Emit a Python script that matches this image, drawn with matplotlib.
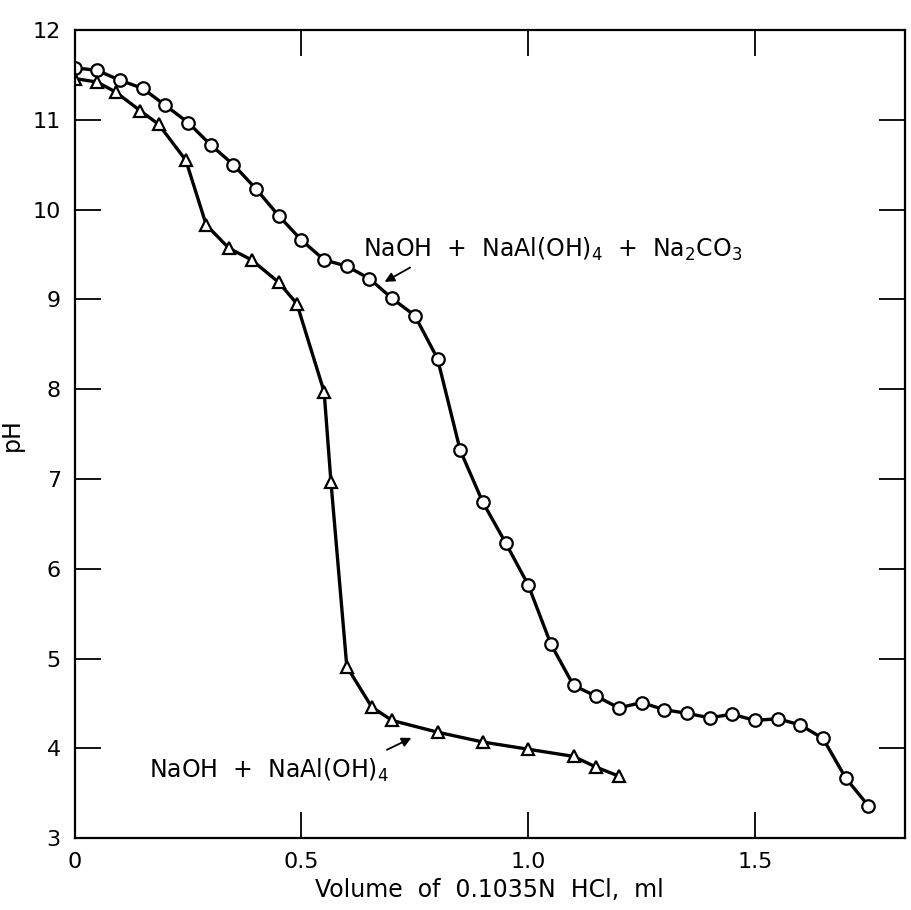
import matplotlib
matplotlib.use("Agg")
import matplotlib.pyplot as plt
from matplotlib.ticker import FixedLocator, FixedFormatter

# ===============================
# Datos
# ===============================

# NaOH + NaAl(OH)4 + Na2CO3 (circulos)
vol_carb = [0.00, 0.05, 0.10, 0.15, 0.20, 0.25, 0.30, 0.35, 0.40, 0.45,
            0.50, 0.55, 0.60, 0.65, 0.70, 0.75, 0.80, 0.85, 0.90, 0.95,
            1.00, 1.05, 1.10, 1.15, 1.20, 1.25, 1.30, 1.35, 1.40, 1.45,
            1.50, 1.55, 1.60, 1.65, 1.70, 1.75]
ph_carb = [11.58, 11.55, 11.44, 11.35, 11.16, 10.97, 10.72, 10.50, 10.23, 9.93,
           9.66, 9.44, 9.37, 9.23, 9.01, 8.82, 8.34, 7.32, 6.74, 6.29,
           5.82, 5.16, 4.70, 4.58, 4.45, 4.51, 4.43, 4.39, 4.34, 4.38,
           4.31, 4.33, 4.26, 4.11, 3.67, 3.36]

# NaOH + NaAl(OH)4 (triangulos)
vol_alum = [0.00, 0.05, 0.09, 0.145, 0.185, 0.245, 0.29, 0.34, 0.39, 0.45,
            0.49, 0.55, 0.565, 0.60, 0.655, 0.70, 0.80, 0.90, 1.00, 1.10,
            1.15, 1.20]
ph_alum = [11.46, 11.42, 11.31, 11.10, 10.95, 10.55, 9.83, 9.57, 9.44, 9.19,
           8.95, 7.97, 6.97, 4.91, 4.46, 4.31, 4.18, 4.07, 3.99, 3.91,
           3.79, 3.69]

x_ticks = [0, 0.5, 1.0, 1.5]
x_tick_labels = ["0", "0.5", "1.0", "1.5"]
y_ticks = [3, 4, 5, 6, 7, 8, 9, 10, 11, 12]

# ===============================
# Figura
# ===============================

plt.rcParams["font.family"] = ["DejaVu Sans"]

fig = plt.figure(figsize=(9.11, 9.10), dpi=100)
ax = fig.add_axes([0.082, 0.079, 0.911, 0.888])

ax.plot(vol_carb, ph_carb, color="black", lw=2.4, marker="o", ms=9,
        mfc="white", mec="black", mew=1.6, solid_joinstyle="round")
ax.plot(vol_alum, ph_alum, color="black", lw=2.4, marker="^", ms=9,
        mfc="white", mec="black", mew=1.6, solid_joinstyle="round")

ax.set_xlim(0, 1.83)
ax.set_ylim(3, 12)

ax.xaxis.set_major_locator(FixedLocator(x_ticks))
ax.xaxis.set_major_formatter(FixedFormatter(x_tick_labels))
ax.yaxis.set_major_locator(FixedLocator(y_ticks))

ax.tick_params(axis="both", direction="in", length=19, width=1.3,
               labelsize=16, top=True, right=True, pad=10)
for s in ax.spines.values():
    s.set_linewidth(1.6)

ax.set_xlabel("Volume  of  0.1035N  HCl,  ml", fontsize=17, labelpad=4)
ax.set_ylabel("pH", fontsize=17, labelpad=6)

ax.text(0.636, 9.56, "NaOH  +  NaAl(OH)$_4$  +  Na$_2$CO$_3$", fontsize=17,
        ha="left", va="center")
ax.annotate("", xy=(0.678, 9.18), xytext=(0.745, 9.37),
            arrowprops=dict(arrowstyle="-|>", color="black", lw=1.3,
                            mutation_scale=14))

ax.text(0.164, 3.75, "NaOH  +  NaAl(OH)$_4$", fontsize=17,
        ha="left", va="center")
ax.annotate("", xy=(0.748, 4.13), xytext=(0.683, 3.97),
            arrowprops=dict(arrowstyle="-|>", color="black", lw=1.3,
                            mutation_scale=14))

fig.savefig("out.png", dpi=100)
